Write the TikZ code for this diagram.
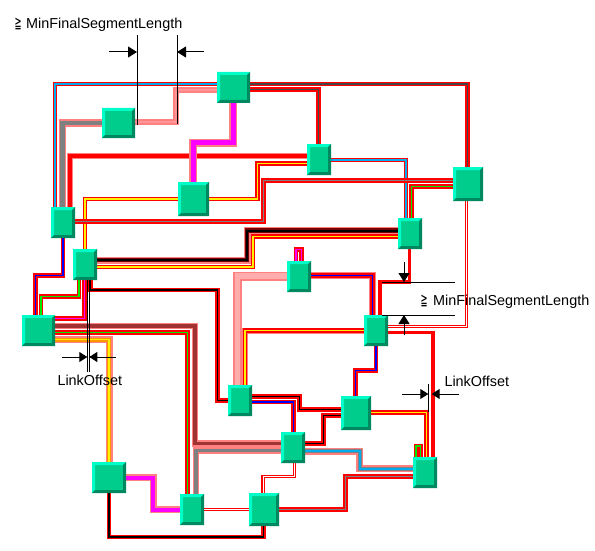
\documentclass[tikz,border=0pt]{standalone}
\usepackage{graphicx}
\usepackage{fontspec}
\setmainfont{Liberation Sans}
\newfontfamily\dvfont{DejaVu Sans}
\usetikzlibrary{arrows.meta}
\pgfdeclarelayer{bg}
\pgfsetlayers{bg,main}
\definecolor{halo}{RGB}{255,128,128}
\definecolor{lpink}{RGB}{255,172,172}
\definecolor{pcore}{RGB}{255,150,150}
\definecolor{grn}{RGB}{0,235,0}
\definecolor{dgray}{RGB}{70,70,70}
\definecolor{mgray}{RGB}{128,128,128}
\definecolor{dred}{RGB}{160,50,50}
\definecolor{maroon}{RGB}{120,0,0}
\definecolor{orng}{RGB}{255,150,0}
\definecolor{boxmid}{RGB}{0,204,140}
\definecolor{boxlt}{RGB}{0,255,200}
\definecolor{boxdk}{RGB}{0,136,96}
\definecolor{mag}{RGB}{255,0,255}
\tikzset{
  rw/.style={draw=red, line width=1.4pt, double=white, double distance=1pt},
  rc/.style={draw=red, line width=1.25pt, double=cyan, double distance=1.8pt},
  ry/.style={draw=red, line width=1.25pt, double=yellow, double distance=1.8pt},
  rgn/.style={draw=red, line width=1.25pt, double=grn, double distance=1.8pt},
  rbl/.style={draw=red, line width=1.25pt, double=blue, double distance=1.8pt},
  rbk/.style={draw=red, line width=1.25pt, double=black, double distance=1.8pt},
  rgy/.style={draw=red, line width=1.25pt, double=mgray, double distance=1.9pt},
  rdg/.style={draw=red, line width=1.3pt, double=dgray, double distance=1.9pt},
  rmg/.style={draw=red, line width=1.25pt, double=mag, double distance=1.9pt},
  thickred/.style={draw=red, line width=3.8pt},
  hl/.style={draw=halo, line width=#1},
  core/.style 2 args={draw=#1, line width=#2},
  box/.style={fill=boxmid, inner sep=0pt, outer sep=0pt, path picture={
    \fill[boxlt] (path picture bounding box.north west) -- (path picture bounding box.north east)
      -- ([shift={(-3pt,-3pt)}]path picture bounding box.north east)
      -- ([shift={(3pt,-3pt)}]path picture bounding box.north west)
      -- ([shift={(3pt,3pt)}]path picture bounding box.south west)
      -- (path picture bounding box.south west) -- cycle;
    \fill[boxdk] (path picture bounding box.south east) -- (path picture bounding box.north east)
      -- ([shift={(-3pt,-3pt)}]path picture bounding box.north east)
      -- ([shift={(-3pt,3pt)}]path picture bounding box.south east)
      -- ([shift={(3pt,3pt)}]path picture bounding box.south west)
      -- (path picture bounding box.south west) -- cycle;
  }},
  dim/.style={draw=black, line width=1pt},
  arr/.style={-{Triangle[length=9pt,width=11pt]}},
  sarr/.style={-{Triangle[length=8pt,width=10pt]}},
  lbl/.style={anchor=base west, inner sep=0pt, font=\fontsize{14.4}{16}\selectfont},
  geq/.style={anchor=base west, inner sep=0pt, font=\dvfont\fontsize{12}{12}\selectfont},
}
\newcommand\HL[3]{\draw[hl=#1] #3; \draw[#2] #3;}
\newcommand\HLL[4]{\draw[hl=#1] #4; \draw[#2] #4; \draw[#3] #4;}
\newcommand\bx[5]{\node[box, minimum width=#4pt, minimum height=#5pt] (#1) at (#2,#3) {};}
\begin{document}
\begin{tikzpicture}[x=1pt,y=-1pt]
\useasboundingbox (0,0) rectangle (595,551);
% boxes
\bx{n1}{118.5}{123}{33}{30}
\bx{n2}{233.5}{87.5}{33}{31}
\bx{n3}{319}{159.5}{24}{31}
\bx{n4}{193.5}{199}{31}{34}
\bx{n5}{468}{184}{30}{34}
\bx{n6}{63}{222.5}{24}{31}
\bx{n7}{410}{233.5}{24}{31}
\bx{n8}{85}{264.5}{24}{31}
\bx{n9}{299}{276.5}{24}{31}
\bx{n10}{38.5}{330.5}{33}{31}
\bx{n11}{376}{330.5}{24}{31}
\bx{n12}{240}{400.5}{24}{31}
\bx{n13}{356}{413}{30}{34}
\bx{n14}{293}{447.5}{24}{31}
\bx{n15}{425}{472.5}{24}{31}
\bx{n16}{109}{477.5}{34}{31}
\bx{n17}{192}{509.5}{24}{31}
\bx{n18}{264}{509.5}{30}{33}
\begin{pgfonlayer}{bg}
% top area
\draw[rc] (n2.west |- 0,84) -- (55,84) -- (n6.north -| 55,0);
\draw[rdg] (n2.east |- 0,84) -- (467.5,84) -- (n5.north -| 467.5,0);
\draw[rdg] (n2.east |- 0,89.5) -- (318.5,89.5) -- (n3.north -| 318.5,0);
\HL{6pt}{core={pcore}{2pt}}{(n1.east |- 0,122.5) -- (175.5,122.5) -- (175.5,90) -- (n2.west |- 0,90)}
\HL{7pt}{core={mgray}{4.5pt}}{(n1.west |- 0,123) -- (62.5,123) -- (n6.north -| 62.5,0)}
\HL{6.5pt}{core={red}{4pt}}{(n3.west |- 0,156) -- (70,156) -- (n6.north -| 70,0)}
\HL{8pt}{core={mag}{5pt}}{(n2.south -| 233,0) -- (233,142.5) -- (193,142.5) -- (n4.north -| 193,0)}
\draw[ry] (n8.north -| 85,0) -- (85,199) -- (257.5,199) -- (257.5,163.5) -- (n3.west |- 0,163.5);
\draw[rc] (n3.east |- 0,160) -- (406,160) -- (n7.north -| 406,0);
\draw[rgy] (n6.east |- 0,221.5) -- (263.5,221.5) -- (263.5,180.5) -- (n5.west |- 0,180.5);
\draw[rgn] (n5.west |- 0,186.5) -- (411.5,186.5) -- (n7.north -| 411.5,0);
\draw[rw] (n5.south -| 466.5,0) -- (466.5,326.5) -- (n11.east |- 0,326.5);
\HLL{7pt}{core={maroon}{4.5pt}}{core={black}{2pt}}{(n8.east |- 0,260) -- (247,260) -- (247,230.5) -- (n7.west |- 0,230.5)}
\draw[ry] (n8.east |- 0,267) -- (253,267) -- (253,236.5) -- (n7.west |- 0,236.5);
% left area
\draw[rbl] (n6.south -| 63,0) -- (63,275.5) -- (35.5,275.5) -- (n10.north -| 35.5,0);
\draw[rgn] (n8.south -| 79,0) -- (79,296.5) -- (41,296.5) -- (n10.north -| 41,0);
\draw[rmg] (n8.south -| 84.5,0) -- (84.5,318.5) -- (n10.east |- 0,318.5);
\draw[rbk] (n8.south -| 90.5,0) -- (90.5,290) -- (217.5,290) -- (217.5,400.5) -- (n12.west |- 0,400.5);
\HL{6.5pt}{core={dred}{3.5pt}}{(n10.east |- 0,326) -- (195,326) -- (195,443.5) -- (n14.west |- 0,443.5)}
\draw[rgn] (n10.east |- 0,332.5) -- (187.5,332.5) -- (n17.north -| 187.5,0);
\HLL{7pt}{core={orng}{4pt}}{core={yellow}{1.6pt}}{(n10.east |- 0,339.5) -- (109,339.5) -- (n16.north -| 109,0)}
\HL{6.5pt}{core={mgray}{3.5pt}}{(n14.west |- 0,450.5) -- (196,450.5) -- (n17.north -| 196,0)}
% middle / right area
\draw[thickred] (n7.south -| 409.5,0) -- (409.5,282) -- (380,282) -- (n11.north -| 380,0);
\draw[thickred] (n11.east |- 0,332.5) -- (433,332.5) -- (n15.north -| 433,0);
\draw[ry] (n13.east |- 0,412.5) -- (426.5,412.5) -- (n15.north -| 426.5,0);
\draw[rbl] (n11.south -| 376,0) -- (376,370.5) -- (355.5,370.5) -- (n13.north -| 355.5,0);
\HL{6pt}{ry}{(n11.west |- 0,330.5) -- (245,330.5) -- (n12.north -| 245,0)}
\HL{9pt}{core={lpink}{5.5pt}}{(n9.west |- 0,276) -- (237.5,276) -- (n12.north -| 237.5,0)}
\HL{6.5pt}{rbl}{(n9.east |- 0,275.5) -- (372.5,275.5) -- (n11.north -| 372.5,0)}
\draw[rmg] (n9.north -| 296,0) -- (296,249.5) -- (301.5,249.5) -- (n9.north -| 301.5,0);
\draw[rgn] (n15.north -| 416,0) -- (416,446) -- (420.5,446) -- (n15.north -| 420.5,0);
\draw[rbk] (n12.east |- 0,396.5) -- (299.5,396.5) -- (299.5,409.5) -- (n13.west |- 0,409.5);
\draw[rbl] (n12.east |- 0,402) -- (293.5,402) -- (n14.north -| 293.5,0);
\draw[rbk] (n14.east |- 0,443.5) -- (323.5,443.5) -- (323.5,415.5) -- (n13.west |- 0,415.5);
\HLL{7pt}{core={mgray}{4pt}}{core={cyan}{2pt}}{(n14.east |- 0,451) -- (359.5,451) -- (359.5,468.5) -- (n15.west |- 0,468.5)}
\draw[rw] (n14.south -| 294.5,0) -- (294.5,476.5) -- (263,476.5) -- (n18.north -| 263,0);
\draw[rgy] (n15.west |- 0,476.5) -- (345.5,476.5) -- (345.5,509.5) -- (n18.east |- 0,509.5);
\HL{7pt}{core={mag}{4pt}}{(n16.east |- 0,477.5) -- (153,477.5) -- (153,509.5) -- (n17.west |- 0,509.5)}
\draw[rbk] (n16.south -| 109,0) -- (109,537) -- (263.5,537) -- (n18.south -| 263.5,0);
\draw[rw] (n17.east |- 0,509.5) -- (n18.west |- 0,509.5);
\end{pgfonlayer}
% annotations
\draw[dim] (137,35) -- (137,125);
\draw[dim] (177,35) -- (177,124);
\draw[dim, arr] (109,52) -- (137,52);
\draw[dim, arr] (204,52) -- (177,52);
\node[geq] (g1) at (14.5,29) {\scalebox{0.7}[1.35]{≧}};
\node[lbl] (t1) at (26,29) {MinFinalSegmentLength};
\draw[dim] (382,282) -- (455,282);
\draw[dim] (382,315) -- (455,315);
\draw[dim, arr] (404,262) -- (404,282);
\draw[dim, arr] (404,335) -- (404,315);
\node[geq] (g2) at (420.5,305) {\scalebox{0.7}[1.35]{≧}};
\node[lbl] (t2) at (433,305) {MinFinalSegmentLength};
\draw[dim] (87.3,280) -- (87.3,372);
\draw[dim] (89.3,280) -- (89.3,372);
\draw[dim, sarr] (62,357) -- (87.3,357);
\draw[dim, sarr] (116,357) -- (89.3,357);
\node[lbl] (t3) at (57.3,385) {LinkOffset};
\draw[dim] (428.3,384) -- (428.3,412);
\draw[dim, sarr] (402,394) -- (428.3,394);
\draw[dim, sarr] (459,394) -- (431.7,394);
\node[lbl] (t4) at (444.3,386) {LinkOffset};
\end{tikzpicture}
\end{document}
